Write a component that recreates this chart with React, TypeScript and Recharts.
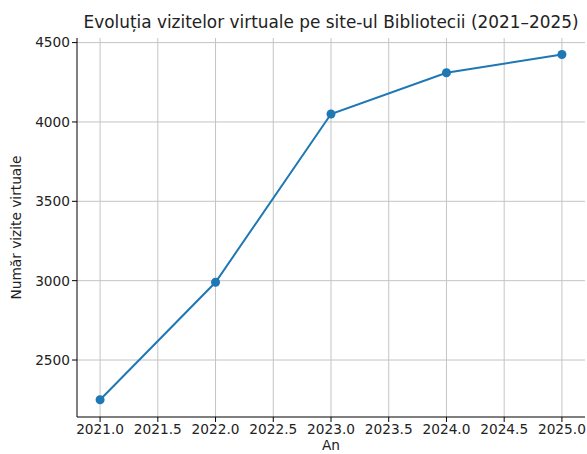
import { LineChart, Line, XAxis, YAxis, CartesianGrid } from "recharts";

// visitor counts per year
const years = [2021, 2022, 2023, 2024, 2025];
const visits = [2250, 2990, 4050, 4310, 4425];
const xTicks = [2021, 2021.5, 2022, 2022.5, 2023, 2023.5, 2024, 2024.5, 2025];
const yTicks = [2500, 3000, 3500, 4000, 4500];

const chartData = years.map((year, i) => ({ year, visits: visits[i] }));

const font = "DejaVu Sans, sans-serif";
const textColor = "#222";

function App() {
    return (
        <div style={{ position: "absolute", left: 0, top: 0, width: 587, height: 454, fontFamily: font }}>
            <div
                style={{
                    position: "absolute",
                    left: 77,
                    width: 508,
                    top: 12,
                    textAlign: "center",
                    fontSize: 16.9,
                    color: textColor,
                    whiteSpace: "nowrap",
                }}
            >
                Evoluția vizitelor virtuale pe site-ul Bibliotecii (2021–2025)
            </div>
            <LineChart
                width={587}
                height={454}
                data={chartData}
                margin={{ top: 38, right: 2, bottom: 0, left: 0 }}
            >
                <CartesianGrid stroke="#c4c4c4" strokeWidth={1} horizontalValues={yTicks} verticalValues={xTicks} />
                <XAxis
                    dataKey="year"
                    type="number"
                    domain={[2020.8, 2025.2]}
                    ticks={xTicks}
                    tickFormatter={(v: number) => v.toFixed(1)}
                    height={37}
                    allowDataOverflow
                    stroke="#000"
                    tickSize={5}
                    tick={{ fill: textColor, fontSize: 13.7, fontFamily: font }}
                    label={{ value: "An", position: "insideBottom", offset: 4, fill: textColor, fontSize: 13.7, fontFamily: font }}
                />
                <XAxis xAxisId="top" orientation="top" dataKey="year" type="number" domain={[2020.8, 2025.2]} height={0} tick={false} tickLine={false} stroke="#000" />
                <YAxis
                    type="number"
                    domain={[2141, 4529]}
                    ticks={yTicks}
                    width={77}
                    allowDataOverflow
                    stroke="#000"
                    tickSize={5}
                    tick={{ fill: textColor, fontSize: 13.7, fontFamily: font }}
                    label={{
                        value: "Număr vizite virtuale",
                        angle: -90,
                        position: "insideLeft",
                        offset: 16,
                        fill: textColor,
                        fontSize: 13.7,
                        fontFamily: font,
                        style: { textAnchor: "middle" },
                    }}
                />
                <YAxis yAxisId="right" orientation="right" domain={[2141, 4529]} width={0} tick={false} tickLine={false} stroke="#000" />
                <Line
                    type="linear"
                    dataKey="visits"
                    stroke="#1f77b4"
                    strokeWidth={2}
                    dot={{ r: 4.5, fill: "#1f77b4", stroke: "#1f77b4", strokeWidth: 0 }}
                    activeDot={false}
                    isAnimationActive={false}
                />
            </LineChart>
        </div>
    );
}

export default App;
